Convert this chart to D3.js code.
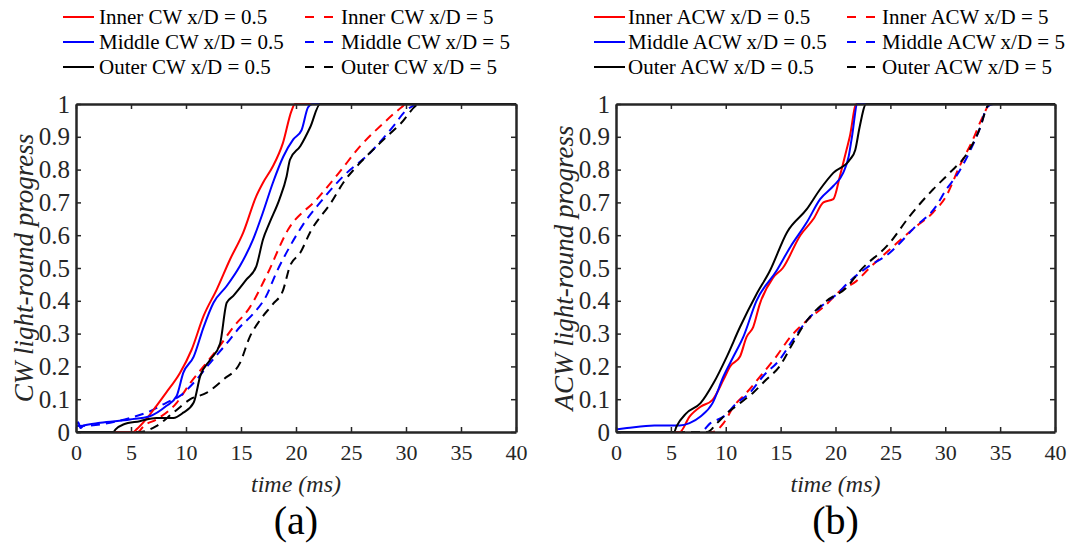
<!DOCTYPE html>
<html>
<head>
<meta charset="utf-8">
<script src="https://cdn.jsdelivr.net/npm/d3@7"></script>
<style>
  body { margin: 0; background: #fff; }
  text { font-family: "Liberation Serif", "Times New Roman", serif; }
</style>
</head>
<body>
<script>
// tick values
const xTicks = [0, 5, 10, 15, 20, 25, 30, 35, 40];
const yTicks = [0, 0.1, 0.2, 0.3, 0.4, 0.5, 0.6, 0.7, 0.8, 0.9, 1];

// panel (a) clockwise, [time ms, progress]
const cwInner05 = [[0,0],[5.2,0],[5.5,0.008],[6.4,0.04],[7.3,0.079],[8.2,0.12],[9.45,0.18],[10.5,0.25],[11.6,0.354],[12.8,0.435],[14,0.526],[15.2,0.608],[16.4,0.72],[17,0.76],[17.9,0.81],[18.8,0.88],[19.6,0.98],[19.9,1],[40,1]];
const cwMiddle05 = [[0,0.02],[0.2,0.03],[0.4,0.012],[0.7,0.02],[2.2,0.028],[4.9,0.038],[6.7,0.048],[8.2,0.079],[9.15,0.11],[9.75,0.18],[10.7,0.23],[11.6,0.32],[12.5,0.394],[13.7,0.445],[14.9,0.506],[16.1,0.587],[17,0.67],[17.9,0.76],[18.85,0.84],[19.75,0.892],[20.5,0.92],[21.1,0.99],[21.5,1],[40,1]];
const cwOuter05 = [[0,0],[3.4,0],[3.6,0.008],[4.3,0.023],[5.8,0.033],[7.3,0.043],[8.85,0.043],[9.75,0.059],[10.7,0.09],[11.3,0.171],[12.2,0.22],[13.1,0.27],[13.7,0.394],[14.3,0.415],[15.5,0.465],[16.4,0.506],[17,0.587],[17.6,0.638],[18.5,0.71],[19.15,0.78],[19.45,0.83],[20.4,0.872],[21.3,0.93],[22.2,1],[40,1]];
const cwInner5 = [[0,0],[5.6,0],[6.2,0.02],[7.3,0.038],[9.15,0.089],[10.4,0.15],[11.6,0.2],[12.8,0.25],[14.3,0.32],[15.8,0.38],[17.3,0.475],[19.3,0.618],[21.9,0.71],[23.9,0.79],[25.8,0.87],[27.9,0.94],[29.6,0.99],[30,1],[40,1]];
const cwMiddle5 = [[0,0.018],[2.2,0.023],[4.9,0.043],[6.7,0.063],[8.2,0.089],[9.45,0.11],[10.7,0.15],[12.2,0.211],[13.7,0.27],[14.9,0.32],[16.1,0.36],[17.3,0.415],[18.2,0.485],[19.45,0.566],[20.6,0.63],[22.2,0.7],[24.3,0.78],[26.7,0.85],[28.8,0.93],[30,0.98],[31.3,1],[40,1]];
const cwOuter5 = [[0,0],[5.8,0],[7.3,0.018],[8.85,0.059],[10.4,0.1],[11.9,0.12],[13.4,0.16],[14.9,0.21],[15.8,0.29],[16.7,0.34],[17.9,0.39],[18.8,0.43],[19.45,0.506],[20.4,0.547],[21.3,0.61],[23.2,0.7],[24.3,0.76],[25.8,0.82],[27.3,0.87],[29.5,0.94],[31.3,1],[40,1]];

// panel (b) anticlockwise
const acwInner05 = [[0,0],[5.8,0],[6.7,0.047],[7.7,0.077],[8.8,0.098],[9.8,0.16],[10.4,0.2],[11.3,0.23],[11.9,0.29],[12.5,0.32],[13.1,0.39],[14.3,0.47],[15.2,0.5],[16.8,0.6],[18,0.65],[18.9,0.7],[19.8,0.71],[20.4,0.78],[21,0.86],[21.3,0.9],[21.9,1],[40,1]];
const acwMiddle05 = [[0,0.008],[1,0.012],[3.5,0.02],[5.8,0.02],[6.7,0.027],[7.7,0.047],[8.8,0.088],[9.8,0.17],[10.7,0.23],[11.6,0.29],[12.8,0.4],[14.6,0.49],[15.9,0.565],[17.4,0.64],[18.6,0.71],[19.8,0.75],[20.7,0.79],[21.2,0.84],[21.5,0.9],[22,1],[40,1]];
const acwOuter05 = [[0,0],[5.3,0],[5.5,0.016],[6.4,0.057],[7.7,0.088],[8.9,0.15],[10.1,0.23],[11.3,0.32],[12.8,0.42],[14,0.49],[15.6,0.61],[17.4,0.68],[18.6,0.74],[19.8,0.79],[21.3,0.83],[21.8,0.86],[22.2,0.93],[22.8,1],[40,1]];
const acwInner5 = [[0,0],[8.8,0],[9.8,0.027],[10.7,0.077],[11.9,0.12],[13.4,0.18],[14.6,0.23],[15.9,0.29],[17.4,0.34],[19.2,0.39],[20.4,0.43],[21.9,0.46],[23.1,0.5],[25.9,0.585],[27.1,0.62],[28.9,0.67],[30.1,0.72],[31.3,0.81],[32.5,0.89],[33.4,0.96],[34.1,1],[40,1]];
const acwMiddle5 = [[0,0],[7.7,0],[8.6,0.027],[9.8,0.047],[11,0.088],[12.2,0.12],[13.4,0.17],[14.9,0.22],[16.1,0.28],[17.4,0.34],[18.6,0.38],[20.1,0.42],[21.3,0.46],[22.8,0.5],[24.9,0.545],[27.1,0.62],[29.2,0.69],[30.1,0.74],[31,0.78],[32.3,0.86],[33.2,0.93],[33.8,0.99],[34.4,1],[40,1]];
const acwOuter5 = [[0,0],[8.3,0],[9.2,0.027],[10.1,0.057],[11.3,0.088],[12.5,0.12],[13.7,0.16],[14.9,0.2],[16.1,0.27],[17.4,0.34],[19.2,0.4],[21,0.44],[22.2,0.49],[24.9,0.575],[26.8,0.66],[28.9,0.74],[30.4,0.79],[32,0.85],[33.2,0.93],[33.8,0.99],[34,1],[40,1]];

const panels = [
  {
    left: 76, right: 516, yName: "CW light-round progress", tag: "(a)", dir: "CW",
    legendLine: [63, 305], legendText: [99, 341],
    series: [
      { name: "Inner CW x/D = 0.5", data: cwInner05, color: "#ff0000", dash: false },
      { name: "Middle CW x/D = 0.5", data: cwMiddle05, color: "#0000ff", dash: false },
      { name: "Outer CW x/D = 0.5", data: cwOuter05, color: "#000000", dash: false },
      { name: "Inner CW x/D = 5", data: cwInner5, color: "#ff0000", dash: true },
      { name: "Middle CW x/D = 5", data: cwMiddle5, color: "#0000ff", dash: true },
      { name: "Outer CW x/D = 5", data: cwOuter5, color: "#000000", dash: true }
    ]
  },
  {
    left: 616, right: 1055, yName: "ACW light-round progress", tag: "(b)", dir: "ACW",
    legendLine: [594, 847], legendText: [628, 882],
    series: [
      { name: "Inner ACW x/D = 0.5", data: acwInner05, color: "#ff0000", dash: false },
      { name: "Middle ACW x/D = 0.5", data: acwMiddle05, color: "#0000ff", dash: false },
      { name: "Outer ACW x/D = 0.5", data: acwOuter05, color: "#000000", dash: false },
      { name: "Inner ACW x/D = 5", data: acwInner5, color: "#ff0000", dash: true },
      { name: "Middle ACW x/D = 5", data: acwMiddle5, color: "#0000ff", dash: true },
      { name: "Outer ACW x/D = 5", data: acwOuter5, color: "#000000", dash: true }
    ]
  }
];

const plotTop = 104, plotBottom = 432;
const axisColor = "#262626";

const svg = d3.select("body").append("svg")
  .attr("width", 1069)
  .attr("height", 543);

panels.forEach((p) => {
  const x = d3.scaleLinear().domain([0, 40]).range([p.left, p.right]);
  const y = d3.scaleLinear().domain([0, 1]).range([plotBottom, plotTop]);
  const g = svg.append("g");

  const clip = "clip-" + p.dir;
  g.append("clipPath").attr("id", clip)
    .append("rect")
    .attr("x", p.left).attr("y", plotTop - 2)
    .attr("width", p.right - p.left).attr("height", plotBottom - plotTop + 4);

  const line = d3.line()
    .x(d => x(d[0]))
    .y(d => y(d[1]))
    .curve(d3.curveMonotoneX);

  // dashed first, solid on top
  const order = p.series.slice(3).concat(p.series.slice(0, 3));
  g.append("g").attr("clip-path", "url(#" + clip + ")")
    .selectAll("path")
    .data(order)
    .enter()
    .append("path")
    .attr("d", s => line(s.data))
    .attr("fill", "none")
    .attr("stroke", s => s.color)
    .attr("stroke-width", 2)
    .attr("stroke-dasharray", s => s.dash ? "9,6" : null);

  // axes: ticks inward, mirrored
  const bottomAxis = d3.axisBottom(x).tickValues(xTicks).tickSizeInner(-5).tickSizeOuter(0).tickPadding(12);
  const topAxis = d3.axisTop(x).tickValues(xTicks).tickSizeInner(-5).tickSizeOuter(0).tickFormat("");
  const leftAxis = d3.axisLeft(y).tickValues(yTicks).tickSizeInner(-5).tickSizeOuter(0).tickPadding(6)
    .tickFormat(d => d === 0 || d === 1 ? d3.format("d")(d) : d3.format(".1f")(d));
  const rightAxis = d3.axisRight(y).tickValues(yTicks).tickSizeInner(-5).tickSizeOuter(0).tickFormat("");

  const axes = [
    g.append("g").attr("transform", `translate(0,${plotBottom})`).call(bottomAxis),
    g.append("g").attr("transform", `translate(0,${plotTop})`).call(topAxis),
    g.append("g").attr("transform", `translate(${p.left},0)`).call(leftAxis),
    g.append("g").attr("transform", `translate(${p.right},0)`).call(rightAxis)
  ];
  axes.forEach((a, i) => {
    a.attr("font-family", null);
    a.select(".domain").attr("stroke", axisColor).attr("stroke-width", 2.5);
    a.selectAll(".tick line").attr("stroke", axisColor).attr("stroke-width", 1.5);
    a.selectAll(".tick text")
      .attr("fill", axisColor)
      .style("font-family", "'Liberation Serif', 'Times New Roman', serif")
      .style("font-size", i === 2 ? "25px" : "22px");
  });

  // axis titles
  g.append("text")
    .attr("x", (p.left + p.right) / 2)
    .attr("y", 492)
    .attr("text-anchor", "middle")
    .style("font-size", "24px")
    .style("font-style", "italic")
    .attr("fill", axisColor)
    .text("time (ms)");

  g.append("text")
    .attr("transform", `translate(${p.left - 43},${(plotTop + plotBottom) / 2}) rotate(-90)`)
    .attr("text-anchor", "middle")
    .style("font-size", "27px")
    .style("font-style", "italic")
    .attr("fill", axisColor)
    .text(p.yName);

  g.append("text")
    .attr("x", (p.left + p.right) / 2)
    .attr("y", 534)
    .attr("text-anchor", "middle")
    .style("font-size", "40px")
    .attr("fill", "#000")
    .text(p.tag);

  // legend, two columns of three
  const rows = [17, 42, 67];
  const items = g.selectAll(".leg")
    .data(p.series)
    .enter()
    .append("g")
    .attr("class", "leg")
    .attr("transform", (s, i) => `translate(0,${rows[i % 3]})`);
  items.append("line")
    .attr("x1", (s, i) => p.legendLine[Math.floor(i / 3)])
    .attr("x2", (s, i) => p.legendLine[Math.floor(i / 3)] + (s.dash ? 28 : 31))
    .attr("y1", 0).attr("y2", 0)
    .attr("stroke", s => s.color)
    .attr("stroke-width", 2)
    .attr("stroke-dasharray", s => s.dash ? "9,10" : null);
  items.append("text")
    .attr("x", (s, i) => p.legendText[Math.floor(i / 3)])
    .attr("y", 0)
    .attr("dy", "0.35em")
    .style("font-size", "21px")
    .attr("fill", "#000")
    .text(s => s.name);
});
</script>
</body>
</html>
